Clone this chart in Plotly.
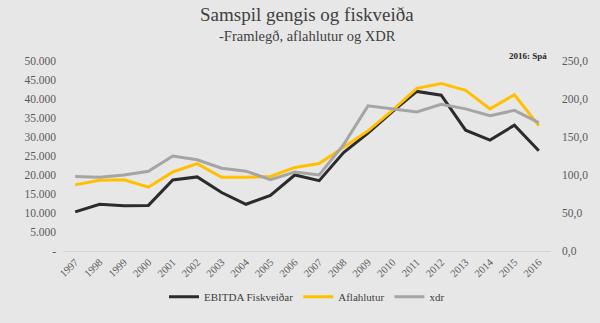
import plotly.graph_objects as go

years = [str(y) for y in range(1997, 2017)]
ebitda = [10300, 12300, 11900, 12000, 18700, 19500, 15400, 12300, 14600, 20000,
          18500, 25900, 31000, 36700, 42000, 41000, 31800, 29200, 33100, 26400]
aflahlutur = [87, 93, 93.6, 84, 104, 115, 97, 97, 98, 110,
              115, 137, 158, 185, 214, 220.5, 211.5, 187, 205.5, 165]
xdr = [98, 97, 100, 105, 125, 120, 109, 105, 94, 104,
       100, 140, 191, 187, 183, 193, 187, 178, 185, 169]

left_vals = [0, 5000, 10000, 15000, 20000, 25000, 30000, 35000, 40000, 45000, 50000]
left_text = ["-", "5.000", "10.000", "15.000", "20.000", "25.000", "30.000", "35.000", "40.000", "45.000", "50.000"]
right_vals = [0, 50, 100, 150, 200, 250]
right_text = ["0,0", "50,0", "100,0", "150,0", "200,0", "250,0"]

font = "Liberation Serif"
fig = go.Figure()
fig.add_trace(go.Scatter(x=years, y=ebitda, name="EBITDA Fiskveiðar", mode="lines",
                         line=dict(color="#2b2b2b", width=3)))
fig.add_trace(go.Scatter(x=years, y=aflahlutur, name="Aflahlutur", mode="lines", yaxis="y2",
                         line=dict(color="#FFC000", width=3)))
fig.add_trace(go.Scatter(x=years, y=xdr, name="xdr", mode="lines", yaxis="y2",
                         line=dict(color="#A5A5A5", width=3)))

ph = 323 - 61 - 67
fig.update_layout(
    width=600, height=323,
    paper_bgcolor="#e7e7e7", plot_bgcolor="#e7e7e7",
    margin=dict(l=63, r=42, t=61, b=67),
    font=dict(family=font, color="#595959", size=11),
    showlegend=True,
    legend=dict(orientation="h", x=0.5, xanchor="center", y=-(303 - 256) / ph, yanchor="middle",
                font=dict(size=11, color="#404040"), bgcolor="rgba(0,0,0,0)",
                tracegroupgap=0),
    xaxis=dict(type="category", range=[-0.5, 19.5], tickangle=-45, showgrid=False,
               zeroline=False, showline=False, ticks="", tickfont=dict(size=10.5),
               ticklabelstandoff=2),
    yaxis=dict(range=[0, 50000], tickvals=left_vals, ticktext=left_text, showgrid=False,
               zeroline=True, zerolinecolor="#d4d4d4", zerolinewidth=1, ticks="",
               tickfont=dict(size=11.5), ticklabelstandoff=6),
    yaxis2=dict(range=[0, 250], tickvals=right_vals, ticktext=right_text, overlaying="y",
                side="right", showgrid=False, zeroline=False, ticks="",
                tickfont=dict(size=11.5), ticklabelstandoff=10),
    annotations=[
        dict(text="Samspil gengis og fiskveiða", x=0.5, xref="paper", y=1 + (61 - 13) / ph,
             yref="paper", yanchor="middle", showarrow=False,
             font=dict(size=19, color="#404040", family=font)),
        dict(text="-Framlegð, aflahlutur og XDR", x=0.5, xref="paper", y=1 + (61 - 35) / ph,
             yref="paper", yanchor="middle", showarrow=False,
             font=dict(size=14.5, color="#404040", family=font)),
        dict(text="<b>2016: Spá</b>", x=0.995, xref="paper", y=1 + (61 - 56) / ph, yref="paper",
             xanchor="right", yanchor="middle", showarrow=False,
             font=dict(size=9, color="#262626", family=font)),
    ],
)

fig.write_html("out.html")
